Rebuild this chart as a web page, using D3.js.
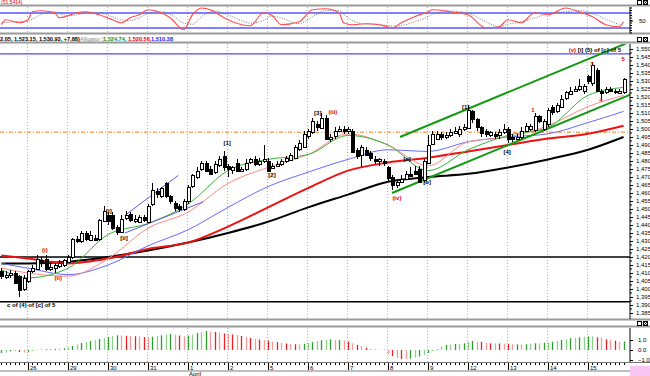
<!DOCTYPE html>
<html>
<head>
<meta charset="utf-8">
<script src="https://cdn.jsdelivr.net/npm/d3@7"></script>
<style>
  body { margin: 0; background: #fff; }
  svg { display: block; }
  text { font-family: "Liberation Sans", Arial, sans-serif; }
</style>
</head>
<body>
<div id="chart"></div>
<script>
// ---- data ----
const dayLabels = ["26","29","30","31","1","2","5","6","7","8","9","12","13","14","15"];

// hourly candles, 9 per day (first 6 are the tail of the previous day)
const opens = [
  1411,1408,1409,1410,1408,1400,
  1405,1411,1413,1418,1419,1413,1413,1414,1415,
  1417,1420,1431,1430,1435,1431,1432,1431,1443,
  1446,1446,1439,1436,1444,1447,1443,1442,1445,
  1442,1453,1461,1458,1466,1458,1454,1452,1450,
  1455,1464,1470,1475,1479,1475,1473,1477,1483,
  1477,1474,1479,1474,1475,1479,1481,1478,1480,
  1480,1476,1477,1478,1480,1481,1482,1487,1489,
  1496,1498,1503,1501,1507,1494,1496,1499,1500,
  1499,1499,1487,1484,1487,1485,1481,1480,1480,
  1476,1470,1465,1467,1469,1472,1474,1475,1468,
  1479,1491,1494,1497,1495,1496,1498,1497,1500,
  1501,1511,1506,1501,1499,1496,1497,1496,1498,
  1500,1495,1494,1495,1499,1500,1499,1508,1500,
  1503,1514,1511,1514,1519,1522,1524,1525,1524,
  1533,1529,1537,1524,1523,1525,1524,1523,1523
];
const highs = [
  1413,1411,1412,1411,1409,1409,
  1412,1415,1421,1420,1421,1416,1416,1418,1419,
  1421,1432,1433,1436,1436,1436,1434,1444,1452,
  1448,1448,1440,1446,1449,1448,1446,1446,1446,
  1453,1466,1463,1464,1467,1459,1455,1453,1456,
  1465,1472,1476,1480,1480,1477,1480,1483,1486,
  1478,1477,1481,1476,1481,1482,1483,1482,1490,
  1482,1479,1480,1481,1483,1485,1490,1493,1499,
  1500,1507,1505,1510,1509,1497,1501,1502,1502,
  1501,1500,1488,1490,1489,1486,1483,1482,1481,
  1477,1471,1469,1471,1474,1476,1477,1477,1481,
  1496,1499,1499,1498,1498,1500,1501,1502,1503,
  1515,1512,1507,1502,1500,1499,1498,1500,1503,
  1501,1497,1497,1501,1504,1503,1510,1509,1506,
  1513,1515,1516,1521,1524,1526,1527,1531,1528,
  1534,1542,1538,1525,1526,1526,1525,1525,1532
];
const lows = [
  1406,1406,1407,1403,1395,1399,
  1404,1410,1412,1414,1411,1411,1410,1413,1414,
  1416,1419,1429,1429,1430,1430,1430,1430,1442,
  1440,1437,1434,1435,1443,1442,1441,1441,1442,
  1441,1452,1457,1457,1457,1453,1449,1448,1449,
  1453,1463,1469,1474,1473,1471,1472,1476,1474,
  1470,1472,1473,1473,1474,1478,1477,1477,1479,
  1473,1475,1476,1477,1479,1480,1481,1486,1488,
  1494,1497,1499,1500,1493,1492,1494,1498,1497,
  1497,1485,1481,1476,1483,1480,1478,1477,1477,
  1467,1462,1463,1466,1468,1470,1471,1466,1466,
  1478,1490,1493,1493,1494,1495,1497,1495,1499,
  1500,1504,1499,1495,1495,1495,1494,1494,1497,
  1491,1492,1493,1494,1498,1499,1498,1504,1499,
  1501,1509,1510,1513,1518,1521,1523,1524,1522,
  1528,1527,1523,1518,1522,1523,1522,1522,1522
];
const closes = [
  1408,1409,1410,1404,1399,1407,
  1411,1413,1419,1416,1413,1414,1415,1416,1418,
  1420,1431,1430,1435,1431,1434,1431,1443,1449,
  1442,1438,1436,1444,1446,1443,1444,1445,1443,
  1452,1462,1459,1463,1458,1455,1451,1450,1455,
  1464,1471,1474,1479,1474,1472,1478,1481,1476,
  1475,1476,1474,1475,1479,1481,1478,1480,1481,
  1474,1477,1478,1480,1482,1484,1489,1491,1497,
  1499,1505,1501,1507,1494,1495,1499,1500,1499,
  1500,1486,1483,1489,1484,1482,1480,1481,1479,
  1469,1465,1467,1469,1472,1471,1472,1467,1480,
  1490,1497,1497,1495,1496,1498,1499,1500,1501,
  1512,1506,1501,1497,1497,1498,1496,1498,1500,
  1494,1494,1495,1499,1502,1502,1508,1505,1505,
  1512,1511,1515,1519,1523,1524,1525,1527,1527,
  1530,1540,1524,1523,1525,1524,1523.5,1524,1531
];

// moving averages read at the first bar of each day
const maBars  = [0, 6, 15, 24, 33, 42, 51, 60, 69, 78, 87, 96, 105, 114, 123, 132, 140];
const maGreen = [1412,1407,1413,1434,1441,1453,1474,1481,1484,1496,1490,1474,1487,1496,1501,1521,1526];
const maPink  = [1413,1410,1408,1419,1438,1448,1466,1476,1484,1497,1490,1477,1492,1495,1502,1514,1521];
const maBlue  = [1416,1413,1409,1415,1427,1437,1451,1464,1473,1481,1487,1486,1492,1495,1497,1504,1511];
const maRed   = [1421,1419,1416,1419,1425,1429,1439,1451,1463,1474,1479,1482,1486,1490,1494,1497,1502];
const maBlack = [1416,1416,1417,1420,1424,1429,1435,1442,1451,1459,1467,1470,1472,1476,1481,1487,1495];

// stochastic (%K red, %D dotted)
const stochBars = [0,1,4,6,7,9,12,13,15,17,19,22,25,27,29,31,33,36,38,41,43,45,48,49,52,56,59,61,63,67,70,73,76,77,79,82,85,88,90,93,96,97,101,105,109,112,114,117,120,123,127,130,133,136,139,140];
const stochK = [33,53,41,53,85,89,81,61,69,81,85,73,53,41,61,73,93,81,61,13,73,100,85,73,45,29,81,69,33,45,93,97,81,41,33,37,33,21,41,65,85,93,85,73,21,25,53,41,81,73,100,85,65,33,25,45];
const stochD = [40,42,46,47,55,75,85,78,70,72,80,80,65,52,50,60,78,85,75,40,35,65,88,85,65,40,50,68,60,38,65,90,90,75,50,36,35,28,30,45,65,75,88,80,45,25,35,45,60,78,85,90,78,55,35,32];

// MACD histogram, one value per bar
const macdHist = [
  -0.3,-0.25,-0.15,-0.1,-0.2,-0.25,
  -0.22,-0.1,0.02,0.05,0.08,0.1,0.12,0.15,0.18,
  0.25,0.4,0.55,0.7,0.8,0.9,1.0,1.1,1.2,
  1.3,1.4,1.47,1.45,1.42,1.4,1.38,1.35,1.3,
  1.27,1.33,1.4,1.47,1.55,1.6,1.52,1.45,1.38,
  1.45,1.55,1.7,1.8,1.9,1.85,1.8,1.75,1.65,
  1.6,1.55,1.5,1.4,1.3,1.2,1.1,1.05,1.0,
  0.93,0.85,0.78,0.7,0.65,0.6,0.58,0.57,0.62,
  0.7,0.8,0.9,0.97,1.02,1.07,1.0,1.0,0.95,
  0.85,0.67,0.5,0.4,0.25,0.1,0.05,0.03,0.04,
  -0.4,-0.6,-0.8,-0.9,-0.93,-0.85,-0.75,-0.65,-0.5,
  -0.3,-0.1,0.07,0.35,0.5,0.55,0.6,0.62,0.67,
  0.83,0.9,0.85,0.8,0.73,0.67,0.67,0.65,0.63,
  0.6,0.57,0.57,0.56,0.58,0.62,0.67,0.67,0.73,
  0.77,0.83,0.9,1.0,1.07,1.17,1.23,1.27,1.33,
  1.35,1.37,1.27,1.23,1.07,1.0,0.93,0.83,0.85
];

// horizontal levels and trend lines (bar, price)
const levels = [
  { price: 1420, color: "#000", width: 1.5, dash: null },
  { price: 1392, color: "#000", width: 1.5, dash: null },
  { price: 1547, color: "#4b4bff", width: 1.2, dash: null },
  { price: 1498, color: "#f4a86a", width: 1.5, dash: "4,2,1,2" }
];
const trendLines = [
  { from: [27.8, 1446], to: [39.8, 1471], color: "#5a5aee", width: 1 },
  { from: [27.8, 1435], to: [45.4, 1454.5], color: "#5a5aee", width: 1 },
  { from: [89.7, 1495], to: [141, 1554], color: "#139913", width: 2 },
  { from: [87.9, 1460], to: [141.5, 1521.5], color: "#139913", width: 2 }
];
const waveLabels = [
  { bar: 24.2, price: 1449, text: "[i]", color: "#000" },
  { bar: 27.6, price: 1432, text: "[ii]", color: "#000" },
  { bar: 50.8, price: 1491, text: "[1]", color: "#000" },
  { bar: 60.9, price: 1471, text: "[2]", color: "#000" },
  { bar: 71.2, price: 1510, text: "[3]", color: "#000" },
  { bar: 74.6, price: 1510.5, text: "(iii)", color: "#e00000" },
  { bar: 91.3, price: 1481, text: "[a]", color: "#000" },
  { bar: 95.8, price: 1467, text: "[b]", color: "#000" },
  { bar: 89.0, price: 1457, text: "(iv)", color: "#e00000" },
  { bar: 104.5, price: 1514, text: "[1]", color: "#000" },
  { bar: 113.8, price: 1485.5, text: "[4]", color: "#000" },
  { bar: 119.6, price: 1512, text: "1", color: "#e00000" },
  { bar: 132.9, price: 1540.5, text: "3", color: "#e00000" },
  { bar: 134.9, price: 1518, text: "4", color: "#e00000" },
  { bar: 139.9, price: 1544, text: "5", color: "#e00000" },
  { bar: 9.8, price: 1424.5, text: "(i)", color: "#e00000" },
  { bar: 12.8, price: 1407, text: "(ii)", color: "#e00000" }
];

// ---- layout ----
const W = 650, H = 376, axisX = 630;
const x = d3.scaleLinear().domain([6, 141]).range([28, 628]);
const yP = d3.scaleLinear().domain([1420, 1550]).range([257, 49]);
const yS = d3.scaleLinear().domain([0, 100]).range([33, 8]);
const yM = d3.scaleLinear().domain([-1, 1]).range([360, 340]);

const svg = d3.select("#chart").append("svg")
  .attr("width", W).attr("height", H);

const defs = svg.append("defs");
[["clipTop", 6, 27], ["clipMain", 44, 275], ["clipMacd", 328, 34]].forEach(c => {
  defs.append("clipPath").attr("id", c[0])
    .append("rect").attr("x", 0).attr("y", c[1]).attr("width", axisX).attr("height", c[2]);
});

// panel borders
[5.5, 33.5, 42.5, 319.5, 326.5].forEach(yy => {
  svg.append("line").attr("x1", 0).attr("x2", W).attr("y1", yy).attr("y2", yy)
    .attr("stroke", "#9a9a9a").attr("stroke-width", 2);
});

// day grid lines
const dayStarts = dayLabels.map((d, k) => 6 + 9 * k);
[[7, 33], [44, 319], [328, 362]].forEach(p => {
  svg.selectAll(null).data(dayStarts).enter().append("line")
    .attr("x1", d => Math.round(x(d)) - 0.5).attr("x2", d => Math.round(x(d)) - 0.5)
    .attr("y1", p[0]).attr("y2", p[1])
    .attr("stroke", "#b0b0b0").attr("stroke-width", 1).attr("stroke-dasharray", "1,2");
});

// ---- stochastic panel ----
const gTop = svg.append("g").attr("clip-path", "url(#clipTop)");
[80, 20].forEach(v => {
  gTop.append("line").attr("x1", 0).attr("x2", axisX).attr("y1", yS(v)).attr("y2", yS(v))
    .attr("stroke", "#5555ff").attr("stroke-width", 1.5);
});
const stochLine = vals => d3.line()
  .x((d, i) => x(stochBars[i])).y(d => yS(d))
  .curve(d3.curveMonotoneX)(vals);
gTop.append("path").attr("d", stochLine(stochD)).attr("fill", "none")
  .attr("stroke", "#777").attr("stroke-width", 1).attr("stroke-dasharray", "1,1.5");
gTop.append("path").attr("d", stochLine(stochK)).attr("fill", "none")
  .attr("stroke", "#ff5050").attr("stroke-width", 1.2);

svg.append("text").attr("x", 1).attr("y", 4.2).attr("font-size", 5).attr("fill", "#e00000")
  .text("(51.5414)");

// ---- main panel ----
const gMain = svg.append("g").attr("clip-path", "url(#clipMain)");
levels.forEach(l => {
  gMain.append("line").attr("x1", 0).attr("x2", axisX)
    .attr("y1", yP(l.price)).attr("y2", yP(l.price))
    .attr("stroke", l.color).attr("stroke-width", l.width)
    .attr("stroke-dasharray", l.dash);
});

const maLine = d3.line().x((d, i) => x(maBars[i])).y(d => yP(d)).curve(d3.curveMonotoneX);
[[maBlack, "#000", 2], [maRed, "#ee1111", 2], [maBlue, "#6a6aff", 1],
 [maPink, "#ff8a8a", 1], [maGreen, "#3cb43c", 1]].forEach(m => {
  gMain.append("path").attr("d", maLine(m[0])).attr("fill", "none")
    .attr("stroke", m[1]).attr("stroke-width", m[2]);
});

trendLines.forEach(t => {
  gMain.append("line")
    .attr("x1", x(t.from[0])).attr("y1", yP(t.from[1]))
    .attr("x2", x(t.to[0])).attr("y2", yP(t.to[1]))
    .attr("stroke", t.color).attr("stroke-width", t.width);
});

// candles
const bars = opens.map((o, i) => ({ i, o, h: highs[i], l: lows[i], c: closes[i] }));
const cg = gMain.append("g").attr("shape-rendering", "crispEdges");
cg.selectAll("line.wick").data(bars).enter().append("line")
  .attr("x1", d => Math.round(x(d.i)) + 0.5).attr("x2", d => Math.round(x(d.i)) + 0.5)
  .attr("y1", d => yP(d.h)).attr("y2", d => yP(d.l))
  .attr("stroke", "#000");
cg.selectAll("rect").data(bars).enter().append("rect")
  .attr("x", d => Math.round(x(d.i)) - 1)
  .attr("y", d => Math.round(yP(Math.max(d.o, d.c))) + 0.5)
  .attr("width", 3)
  .attr("height", d => Math.max(1, Math.round(Math.abs(yP(d.o) - yP(d.c)))))
  .attr("fill", d => d.c >= d.o ? "#fff" : "#000")
  .attr("stroke", "#000").attr("stroke-width", 1);

// wave labels
gMain.selectAll("text.wave").data(waveLabels).enter().append("text")
  .attr("x", d => x(d.bar)).attr("y", d => yP(d.price) + 2)
  .attr("text-anchor", "middle").attr("font-size", 6).attr("font-weight", "bold")
  .attr("fill", d => d.color).text(d => d.text);

// header texts
const info = svg.append("text").attr("y", 40.5).attr("font-size", 5.6).attr("font-weight", "bold");
info.append("tspan").attr("x", 0).attr("fill", "#000").text("2.05, 1,523.15, 1,530.93, +7.88)");
info.append("tspan").attr("x", 80).attr("fill", "#888").attr("font-weight", "normal").text("Alligator (");
info.append("tspan").attr("x", 103).attr("fill", "#109010").text("1,524.74,");
info.append("tspan").attr("x", 128).attr("fill", "#e00000").text("1,520.56,");
info.append("tspan").attr("x", 151).attr("fill", "#2222ee").text("1,510.38");
info.append("tspan").attr("x", 172).attr("fill", "#888").attr("font-weight", "normal").text(")");

const head = svg.append("text").attr("x", 621).attr("y", 52).attr("text-anchor", "end")
  .attr("font-size", 6).attr("font-weight", "bold");
head.append("tspan").attr("fill", "#e00000").text("(v) ");
head.append("tspan").attr("fill", "#000").text("[i] (5) of [c] of 5");

svg.append("text").attr("x", 7).attr("y", 307).attr("font-size", 6).attr("font-weight", "bold")
  .text("c of (4) of [c] of 5");

// ---- MACD panel ----
const gMacd = svg.append("g").attr("clip-path", "url(#clipMacd)");
gMacd.selectAll("line").data(macdHist).enter().append("line")
  .attr("x1", (d, i) => Math.round(x(i)) + 0.5).attr("x2", (d, i) => Math.round(x(i)) + 0.5)
  .attr("y1", yM(0)).attr("y2", d => yM(d))
  .attr("stroke-width", 1.3)
  .attr("stroke", (d, i) => {
    const up = i === 0 || d >= macdHist[i - 1];
    const dark = i % 2 === 0;
    return up ? (dark ? "#2aa02a" : "#8fd08f") : (dark ? "#e82020" : "#f59a9a");
  });

// ---- right axes ----
const axMain = svg.append("g").attr("transform", `translate(${axisX},0)`)
  .call(d3.axisRight(yP).tickValues(d3.range(1385, 1551, 5)).tickSize(3).tickPadding(3));
const axTop = svg.append("g").attr("transform", `translate(${axisX},0)`)
  .call(d3.axisRight(yS).tickValues([50]).tickSize(3).tickPadding(6));
const axMacd = svg.append("g").attr("transform", `translate(${axisX},0)`)
  .call(d3.axisRight(yM).tickValues([-1, 0, 1]).tickSize(3).tickPadding(5));
[axMain, axTop, axMacd].forEach(a => {
  a.select(".domain").attr("stroke", "#000");
  a.selectAll("text").attr("font-size", 6).attr("fill", "#000")
    .attr("font-family", "Liberation Sans, Arial, sans-serif");
});
axMain.select(".domain").attr("d", "M0,44V319");
axTop.select(".domain").attr("d", "M0,7V33");
axMacd.select(".domain").attr("d", "M0,328V362");

// minor ticks
svg.append("g").selectAll("line").data(d3.range(1387.5, 1551, 5)).enter().append("line")
  .attr("x1", axisX).attr("x2", axisX + 2)
  .attr("y1", d => yP(d)).attr("y2", d => yP(d)).attr("stroke", "#000");
svg.append("g").selectAll("line").data(d3.range(0, 101, 10)).enter().append("line")
  .attr("x1", axisX).attr("x2", axisX + 2)
  .attr("y1", d => yS(d)).attr("y2", d => yS(d)).attr("stroke", "#000");

// ---- bottom time axis ----
svg.append("line").attr("x1", 0).attr("x2", W).attr("y1", 362.5).attr("y2", 362.5)
  .attr("stroke", "#777");
svg.append("line").attr("x1", 0).attr("x2", W).attr("y1", 371).attr("y2", 371)
  .attr("stroke", "#aaa").attr("stroke-width", 1.5);
svg.append("g").attr("shape-rendering", "crispEdges").selectAll("line")
  .data(d3.range(0, 141)).enter().append("line")
  .attr("x1", i => Math.round(x(i)) + 0.5).attr("x2", i => Math.round(x(i)) + 0.5)
  .attr("y1", 363).attr("y2", i => (i - 6) % 9 === 0 ? 370 : 365)
  .attr("stroke", "#000");
svg.selectAll("text.day").data(dayLabels).enter().append("text")
  .attr("x", (d, k) => x(dayStarts[k]) + 2).attr("y", 369.5)
  .attr("font-size", 6).text(d => d);
svg.append("text").attr("x", x(42) + 1).attr("y", 376).attr("font-size", 6).text("April");

// window buttons and corner box
[0, 37, 321].forEach(yy => {
  svg.append("rect").attr("x", 637.5).attr("y", yy + 0.5).attr("width", 4).attr("height", 4)
    .attr("fill", "#fff").attr("stroke", "#000");
  svg.append("rect").attr("x", 643.5).attr("y", yy + 0.5).attr("width", 4).attr("height", 4)
    .attr("fill", "#fff").attr("stroke", "#000");
  svg.append("path").attr("d", `M643.5,${yy + 0.5}l4,4M647.5,${yy + 0.5}l-4,4`)
    .attr("stroke", "#000").attr("stroke-width", 0.8);
});
svg.append("rect").attr("x", 630).attr("y", 366).attr("width", 20).attr("height", 10)
  .attr("fill", "#f9c6f4");
</script>
</body>
</html>
